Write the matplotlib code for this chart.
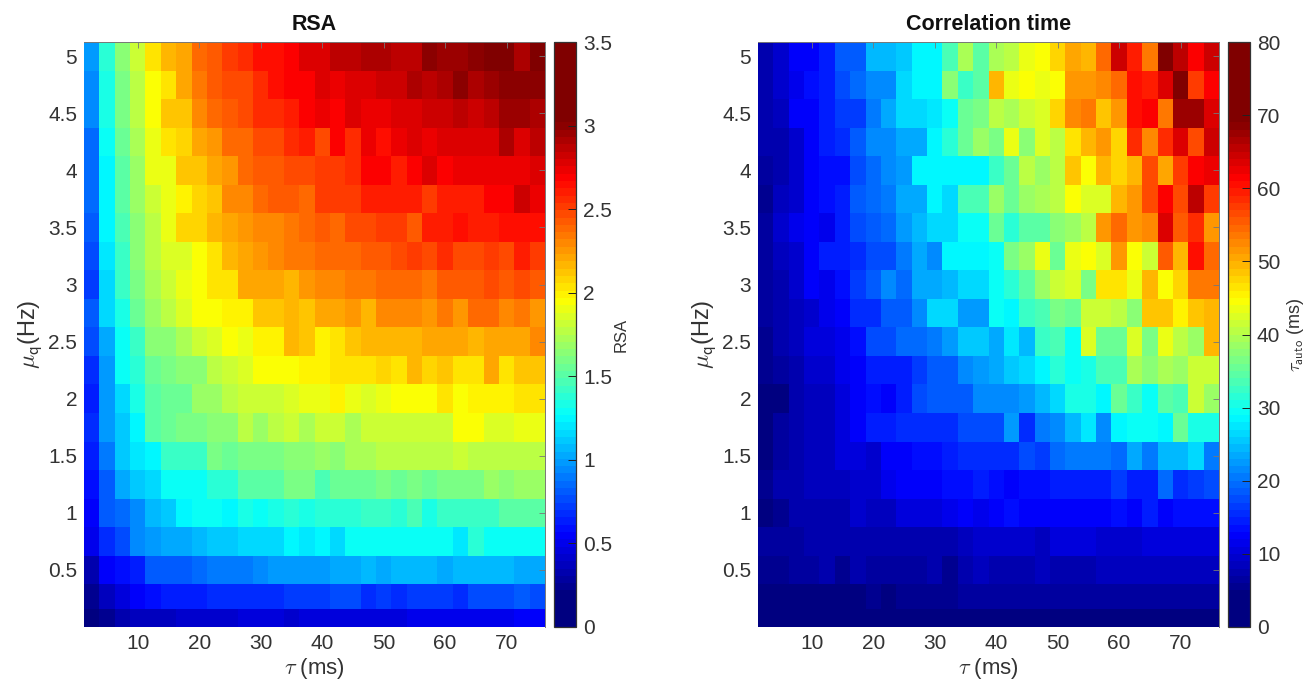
import numpy as np
import matplotlib
matplotlib.use('Agg')
import matplotlib.pyplot as plt
from matplotlib.colors import LinearSegmentedColormap

plt.rcParams['font.family'] = ['Liberation Sans', 'DejaVu Sans']
plt.rcParams['mathtext.fontset'] = 'cm'

# cell edges of the parameter grid
tau_edges = np.arange(1.25, 77, 2.5)
mu_edges = [5.125, 4.875, 4.625, 4.375, 4.125, 3.875, 3.625, 3.375, 3.125, 2.875, 2.625,
            2.375, 2.125, 1.875, 1.625, 1.375, 1.125, 0.875, 0.625, 0.375, 0.16, 0.0]

x_ticks = [10, 20, 30, 40, 50, 60, 70]
y_ticks = [0.5, 1, 1.5, 2, 2.5, 3, 3.5, 4, 4.5, 5]
y_labels = ['0.5', '1', '1.5', '2', '2.5', '3', '3.5', '4', '4.5', '5']
rsa_ticks = [0, 0.5, 1, 1.5, 2, 2.5, 3, 3.5]
rsa_labels = ['0', '0.5', '1', '1.5', '2', '2.5', '3', '3.5']
corr_ticks = [0, 10, 20, 30, 40, 50, 60, 70, 80]

# rows run from the top of the panel down
rsa = np.array([
    [.97,1.38,1.63,1.8,2.04,2.16,2.22,2.37,2.42,2.51,2.55,2.65,2.66,2.70,2.76,2.76,2.87,2.87,2.9,2.9,2.85,2.85,3.0,2.95,2.95,2.98,3.08,3.08,2.93,3.2],
    [.92,1.34,1.6,1.76,1.96,2.05,2.22,2.33,2.41,2.49,2.47,2.57,2.66,2.70,2.70,2.78,2.73,2.77,2.8,2.84,2.84,2.89,2.85,2.9,3.0,2.9,2.94,2.98,2.98,2.98],
    [.92,1.32,1.6,1.78,1.96,2.14,2.14,2.29,2.37,2.43,2.48,2.57,2.54,2.62,2.7,2.75,2.7,2.78,2.74,2.74,2.78,2.78,2.81,2.81,2.85,2.81,2.85,2.94,2.94,2.9],
    [.87,1.28,1.57,1.74,1.92,2.04,2.07,2.22,2.27,2.38,2.38,2.46,2.46,2.57,2.62,2.49,2.7,2.55,2.74,2.63,2.74,2.77,2.72,2.77,2.77,2.77,2.77,2.9,2.8,2.87],
    [.85,1.26,1.52,1.7,1.92,1.92,2.12,2.14,2.22,2.25,2.38,2.42,2.42,2.48,2.48,2.51,2.51,2.57,2.7,2.7,2.62,2.7,2.78,2.7,2.74,2.74,2.74,2.74,2.74,2.78],
    [.85,1.26,1.5,1.68,1.82,1.92,1.99,2.08,2.14,2.29,2.29,2.37,2.42,2.42,2.39,2.5,2.5,2.5,2.59,2.59,2.59,2.59,2.51,2.62,2.62,2.62,2.68,2.68,2.81,2.75],
    [.81,1.26,1.47,1.65,1.78,1.92,2.07,2.07,2.16,2.21,2.25,2.31,2.31,2.33,2.39,2.44,2.39,2.46,2.46,2.51,2.51,2.44,2.6,2.6,2.66,2.6,2.6,2.65,2.65,2.65],
    [.78,1.2,1.44,1.65,1.76,1.87,1.87,1.96,2.05,2.16,2.2,2.24,2.31,2.36,2.33,2.39,2.39,2.39,2.43,2.43,2.46,2.51,2.46,2.55,2.46,2.46,2.51,2.46,2.61,2.5],
    [.72,1.17,1.41,1.58,1.72,1.8,1.89,1.96,2.05,2.05,2.2,2.22,2.22,2.15,2.24,2.31,2.31,2.33,2.33,2.39,2.39,2.39,2.33,2.44,2.44,2.44,2.48,2.42,2.48,2.44],
    [.8,1.15,1.34,1.54,1.68,1.75,1.85,1.93,1.93,2.0,2.0,2.1,2.1,2.16,2.1,2.2,2.2,2.24,2.18,2.31,2.31,2.31,2.25,2.33,2.27,2.38,2.38,2.29,2.36,2.24],
    [.75,1.03,1.28,1.44,1.65,1.65,1.74,1.8,1.87,1.96,1.92,2.0,2.0,2.15,2.1,2.0,2.04,2.12,2.18,2.16,2.16,2.16,2.19,2.19,2.22,2.16,2.22,2.22,2.22,2.29],
    [.66,1.0,1.28,1.39,1.54,1.6,1.66,1.66,1.78,1.82,1.87,1.93,1.93,1.93,2.0,2.0,2.05,2.05,2.05,2.08,2.04,2.15,2.07,2.11,2.05,2.05,2.19,2.04,2.11,2.11],
    [.65,1.0,1.17,1.33,1.5,1.57,1.57,1.7,1.7,1.76,1.8,1.8,1.8,1.85,1.92,1.92,2.0,1.92,1.87,1.92,1.96,1.96,1.96,2.05,1.96,2.0,2.0,2.0,2.04,2.04],
    [.68,.97,1.12,1.26,1.5,1.55,1.58,1.58,1.66,1.66,1.77,1.7,1.75,1.8,1.74,1.8,1.8,1.74,1.83,1.83,1.83,1.83,1.83,1.83,1.94,1.94,1.88,1.88,1.92,1.92],
    [.63,.91,1.1,1.21,1.26,1.41,1.41,1.41,1.6,1.55,1.58,1.58,1.58,1.66,1.66,1.68,1.66,1.72,1.72,1.77,1.77,1.77,1.77,1.77,1.8,1.75,1.75,1.79,1.79,1.79],
    [.6,.83,1.03,1.1,1.16,1.3,1.3,1.3,1.39,1.39,1.5,1.5,1.5,1.58,1.61,1.48,1.54,1.57,1.57,1.61,1.55,1.58,1.54,1.58,1.6,1.61,1.68,1.62,1.7,1.7],
    [.54,.8,.87,.95,1.08,1.13,1.26,1.28,1.28,1.26,1.32,1.3,1.34,1.37,1.33,1.39,1.39,1.39,1.44,1.44,1.36,1.46,1.35,1.43,1.44,1.44,1.44,1.5,1.5,1.5],
    [.5,.68,.76,.93,.98,1.02,1.02,1.06,1.12,1.12,1.17,1.17,1.17,1.23,1.21,1.26,1.18,1.28,1.28,1.28,1.28,1.28,1.28,1.28,1.19,1.36,1.3,1.3,1.3,1.3],
    [.35,.54,.6,.65,.81,.81,.81,.85,.9,.9,.9,.93,.97,1.0,.99,.99,1.02,1.02,1.05,1.01,1.08,1.08,1.08,1.03,1.08,1.08,1.08,1.08,1.03,1.03],
    [.25,.38,.47,.54,.57,.62,.62,.62,.66,.66,.68,.68,.68,.74,.72,.72,.75,.75,.68,.72,.68,.74,.74,.74,.68,.76,.76,.76,.82,.76],
    [.1,.22,.31,.36,.39,.39,.43,.43,.43,.43,.47,.47,.47,.43,.44,.44,.44,.48,.44,.44,.44,.5,.5,.5,.5,.5,.5,.5,.54,.54],
])

corr_time = np.array([
    [7.7,9,12.4,12.7,14.9,18.1,18.1,24.7,24.7,25.5,28.8,28.8,33.6,39.2,34.4,39.7,40.8,43.2,44.8,47,50.7,49.3,54,64.8,59.6,53.2,70,65.6,61.6,64.8],
    [7.7,9,11.6,13.7,14.5,17.3,19.3,21.4,21.4,26.3,28.8,28.8,37.6,32,34.9,49,43.2,44.8,43.7,44.8,51,51,52.9,54,60.5,59.6,63.2,70,57,61.6],
    [7.4,8.7,12.4,12.7,14.9,16.5,16.5,20.1,23,26,26,27.2,29.6,35.5,36.5,40.8,39.2,41.6,42.9,47.7,52,53.2,48.2,51,60.5,61.6,53.2,67.7,67.7,63.5],
    [7,7.7,9.9,12.4,14.4,15.4,18.6,21.9,21.4,23,23.9,28.8,31.2,35.2,38.4,36,43.7,37.6,42,40.3,46,49.3,51.8,47.8,58.2,52.4,58.6,63.7,56,64],
    [6.5,7.7,9.4,12.4,13.7,13.5,17,19.5,21,22.2,28.3,28.3,28.8,28.8,28.8,32.8,35.5,40.8,38.7,40.8,48.5,44.8,49.3,47,49,56.6,50.3,57.4,61.6,62.9],
    [5.7,8.2,9.9,12.4,13.2,14,18.6,19.8,20.1,23.4,23.4,28.8,26.7,33,33.6,38.7,35.5,38,39.7,40.8,44.8,42.9,42.9,49.8,51.9,56,61.6,56,65,57],
    [6,9,11.6,12.4,11.6,14.5,17.8,18,19.3,22.2,24.7,26.7,26.7,29,29,35.5,31.2,34.9,34.9,37.6,38.7,40.3,51,54.5,51,52.4,63.7,55.4,58.6,51.2],
    [6,8.2,9.9,12.4,14.5,14.5,15.7,17.3,17.3,20.1,23,21.4,28.8,28.8,28.8,29.6,36.8,38.7,43.7,35.2,43.2,44.8,42.7,51.5,44.8,41.3,55.7,49.5,60.3,54.5],
    [6,7.7,9.9,12.4,11.9,13.7,16.8,18,21.4,19.8,23,23,24.7,26.7,26.7,29.2,31.2,34.4,38.7,41.6,42.7,36,46.5,46.5,43.7,49.5,44.8,47,53.2,53.2],
    [6,7.7,8.7,9.9,11.9,12.7,15.2,15.7,18.1,18.1,21.4,26.7,26.7,22.6,22.6,29,28.8,32,33,36.8,35.5,41.3,41.3,40.3,37.6,48.5,48.5,45.6,48.2,49.5],
    [5.7,7,8.2,10.7,10.7,11.9,13.5,17,17,19.3,19.3,20.1,22.6,25.5,25.5,23.5,27.7,24.7,32,33.6,29,42.4,35.7,35.7,42.9,36.8,43.7,40.8,38.4,49],
    [5.7,6.5,7.7,9,9,11,12.4,14,14.5,14.5,16.5,18,18.5,21.4,22.6,23.5,25,26.7,28.8,31.2,29.3,30.4,33.6,33.6,39.2,37.6,39.7,38.7,41.3,41.3],
    [4.3,4.8,7.7,8.7,8.7,10.4,12.4,13.5,12.7,14.5,17.3,18,18.6,18.6,21,21,21,22.6,24.7,26,30.4,30.4,28,35.7,32,29.6,34.9,33.6,41,38.4],
    [4.8,6,7.4,8.7,8.7,10.4,12.4,14.5,14.5,15.2,15.7,15.7,15.7,17.3,17.8,17.8,22.2,15.4,20.1,21.4,24.7,27.2,21.4,28.8,29.6,29.6,28.8,35.2,30.4,30.4],
    [4.8,6,7.4,8.2,8.2,10.4,10.4,9.4,12.7,12.7,13.5,13.5,14.5,15.4,15.7,15.7,15.7,17.8,16,19,20.1,20.1,20.9,19.8,23.9,20.6,24.7,24.7,26.7,20.6],
    [5.3,7,7,8.2,8.2,8.2,9,9,11.6,12.9,12.9,12.9,13.2,13.2,14.5,13.7,12.7,13.7,13.7,14.9,14,14,14.9,16.5,14.9,14.9,19.8,15.7,16.5,17.3],
    [3.5,5.3,7,7,7.7,7.7,9,8.7,8.7,10.4,10.4,10.4,11.6,12,11.8,12.4,13.5,12.4,12.4,12.4,12.4,12.4,12.4,13.2,12.4,14.9,12.6,13.5,13.5,13.5],
    [6.5,6.5,6.5,7.4,7.4,7.4,7.4,7.7,7.7,7.7,7.7,7.7,7,8.7,9,9,9,9.9,8.7,10.2,10.2,10.2,9.4,9.9,9,10.7,10.7,10.7,10.7,10.7],
    [5,5,6,6,7,5.3,7,6,6,6,6,7,5.3,7,8.2,7,7,7,8.2,7,7,7,8.2,8.2,8.2,8.2,8.2,8.2,8.2,8.2],
    [4.8,4.8,4.8,4.8,4.8,4.8,4.8,5.7,4.8,5.7,5.7,5.7,5.7,6,6,6,6,6,6,6,6.5,6.5,6.5,6.5,6.5,6.5,6.5,6.5,6.5,6.5],
    [3,3,3,3,3,3,3,3,3,3,3,3,3.5,3.5,3.5,3.5,3.5,3.5,4,4,4,4,4,4.6,4.6,4.6,4.6,4.6,4.6,4.6],
])

# jet that saturates early, as in the colour bars of the figure
cmap = LinearSegmentedColormap.from_list('jet_clipped', [
    (0.0, (0, 0, 0.5)), (0.05, (0, 0, 0.5)), (0.155, (0, 0, 1)), (0.36, (0, 1, 1)),
    (0.56, (1, 1, 0)), (0.77, (1, 0, 0)), (0.87, (0.5, 0, 0)), (1.0, (0.5, 0, 0))], N=80)

W, H = 1313.0, 682.0
text_col = '#333333'
box_col = '#777777'


def panel(x0, cb_x0, data, vmax, title, ticks, tick_labels, cb_label, label_x, label_size):
    ax = fig.add_axes([x0 / W, 1 - 627 / H, 461 / W, 585 / H])
    mesh = ax.pcolormesh(tau_edges, mu_edges, data, cmap=cmap, vmin=0, vmax=vmax, linewidth=0, rasterized=True)
    ax.set_xlim(1.25, 76.25)
    ax.set_ylim(0, 5.125)
    ax.set_xticks(x_ticks)
    ax.set_yticks(y_ticks)
    ax.set_yticklabels(y_labels)
    ax.tick_params(axis='both', direction='in', length=4, width=0.6, color=box_col, labelcolor=text_col,
                   labelsize=15, left=False, bottom=False, top=True, right=True, pad=5)
    ax.spines['left'].set_visible(False)
    ax.spines['bottom'].set_visible(False)
    ax.spines['top'].set_color(box_col)
    ax.spines['right'].set_color(box_col)
    ax.spines['top'].set_linewidth(0.7)
    ax.spines['right'].set_linewidth(0.7)
    ax.set_title(title, fontsize=15.5, fontweight='bold', color='#111111', pad=9)
    ax.set_xlabel(r'$\tau$ (ms)', fontsize=16, color=text_col, labelpad=2)
    ax.set_ylabel(r'$\mu_{\mathsf{q}}$(Hz)', fontsize=17, color=text_col)
    ax.yaxis.set_label_coords(-0.087, 0.5)

    cax = fig.add_axes([cb_x0 / W, 1 - 627 / H, 22 / W, 585 / H])
    cb = fig.colorbar(mesh, cax=cax)
    cb.set_ticks(ticks)
    cb.set_ticklabels(tick_labels)
    cb.ax.tick_params(direction='in', length=6, width=0.7, color='#222222', labelcolor=text_col, labelsize=15, pad=5)
    cb.outline.set_edgecolor('#333333')
    cb.outline.set_linewidth(0.9)
    fig.text(label_x / W, 1 - 335 / H, cb_label, rotation=90, ha='center', va='center', fontsize=label_size, color=text_col)


fig = plt.figure(figsize=(13.13, 6.82), dpi=100, facecolor='white')
panel(84, 554, rsa, 3.5, 'RSA', rsa_ticks, rsa_labels, 'RSA', 621, 12)
panel(758, 1228, corr_time, 80, 'Correlation time', corr_ticks, [str(t) for t in corr_ticks],
      r'$\tau_{\mathsf{auto}}$ (ms)', 1296, 13)

fig.savefig('out.png', dpi=100)
